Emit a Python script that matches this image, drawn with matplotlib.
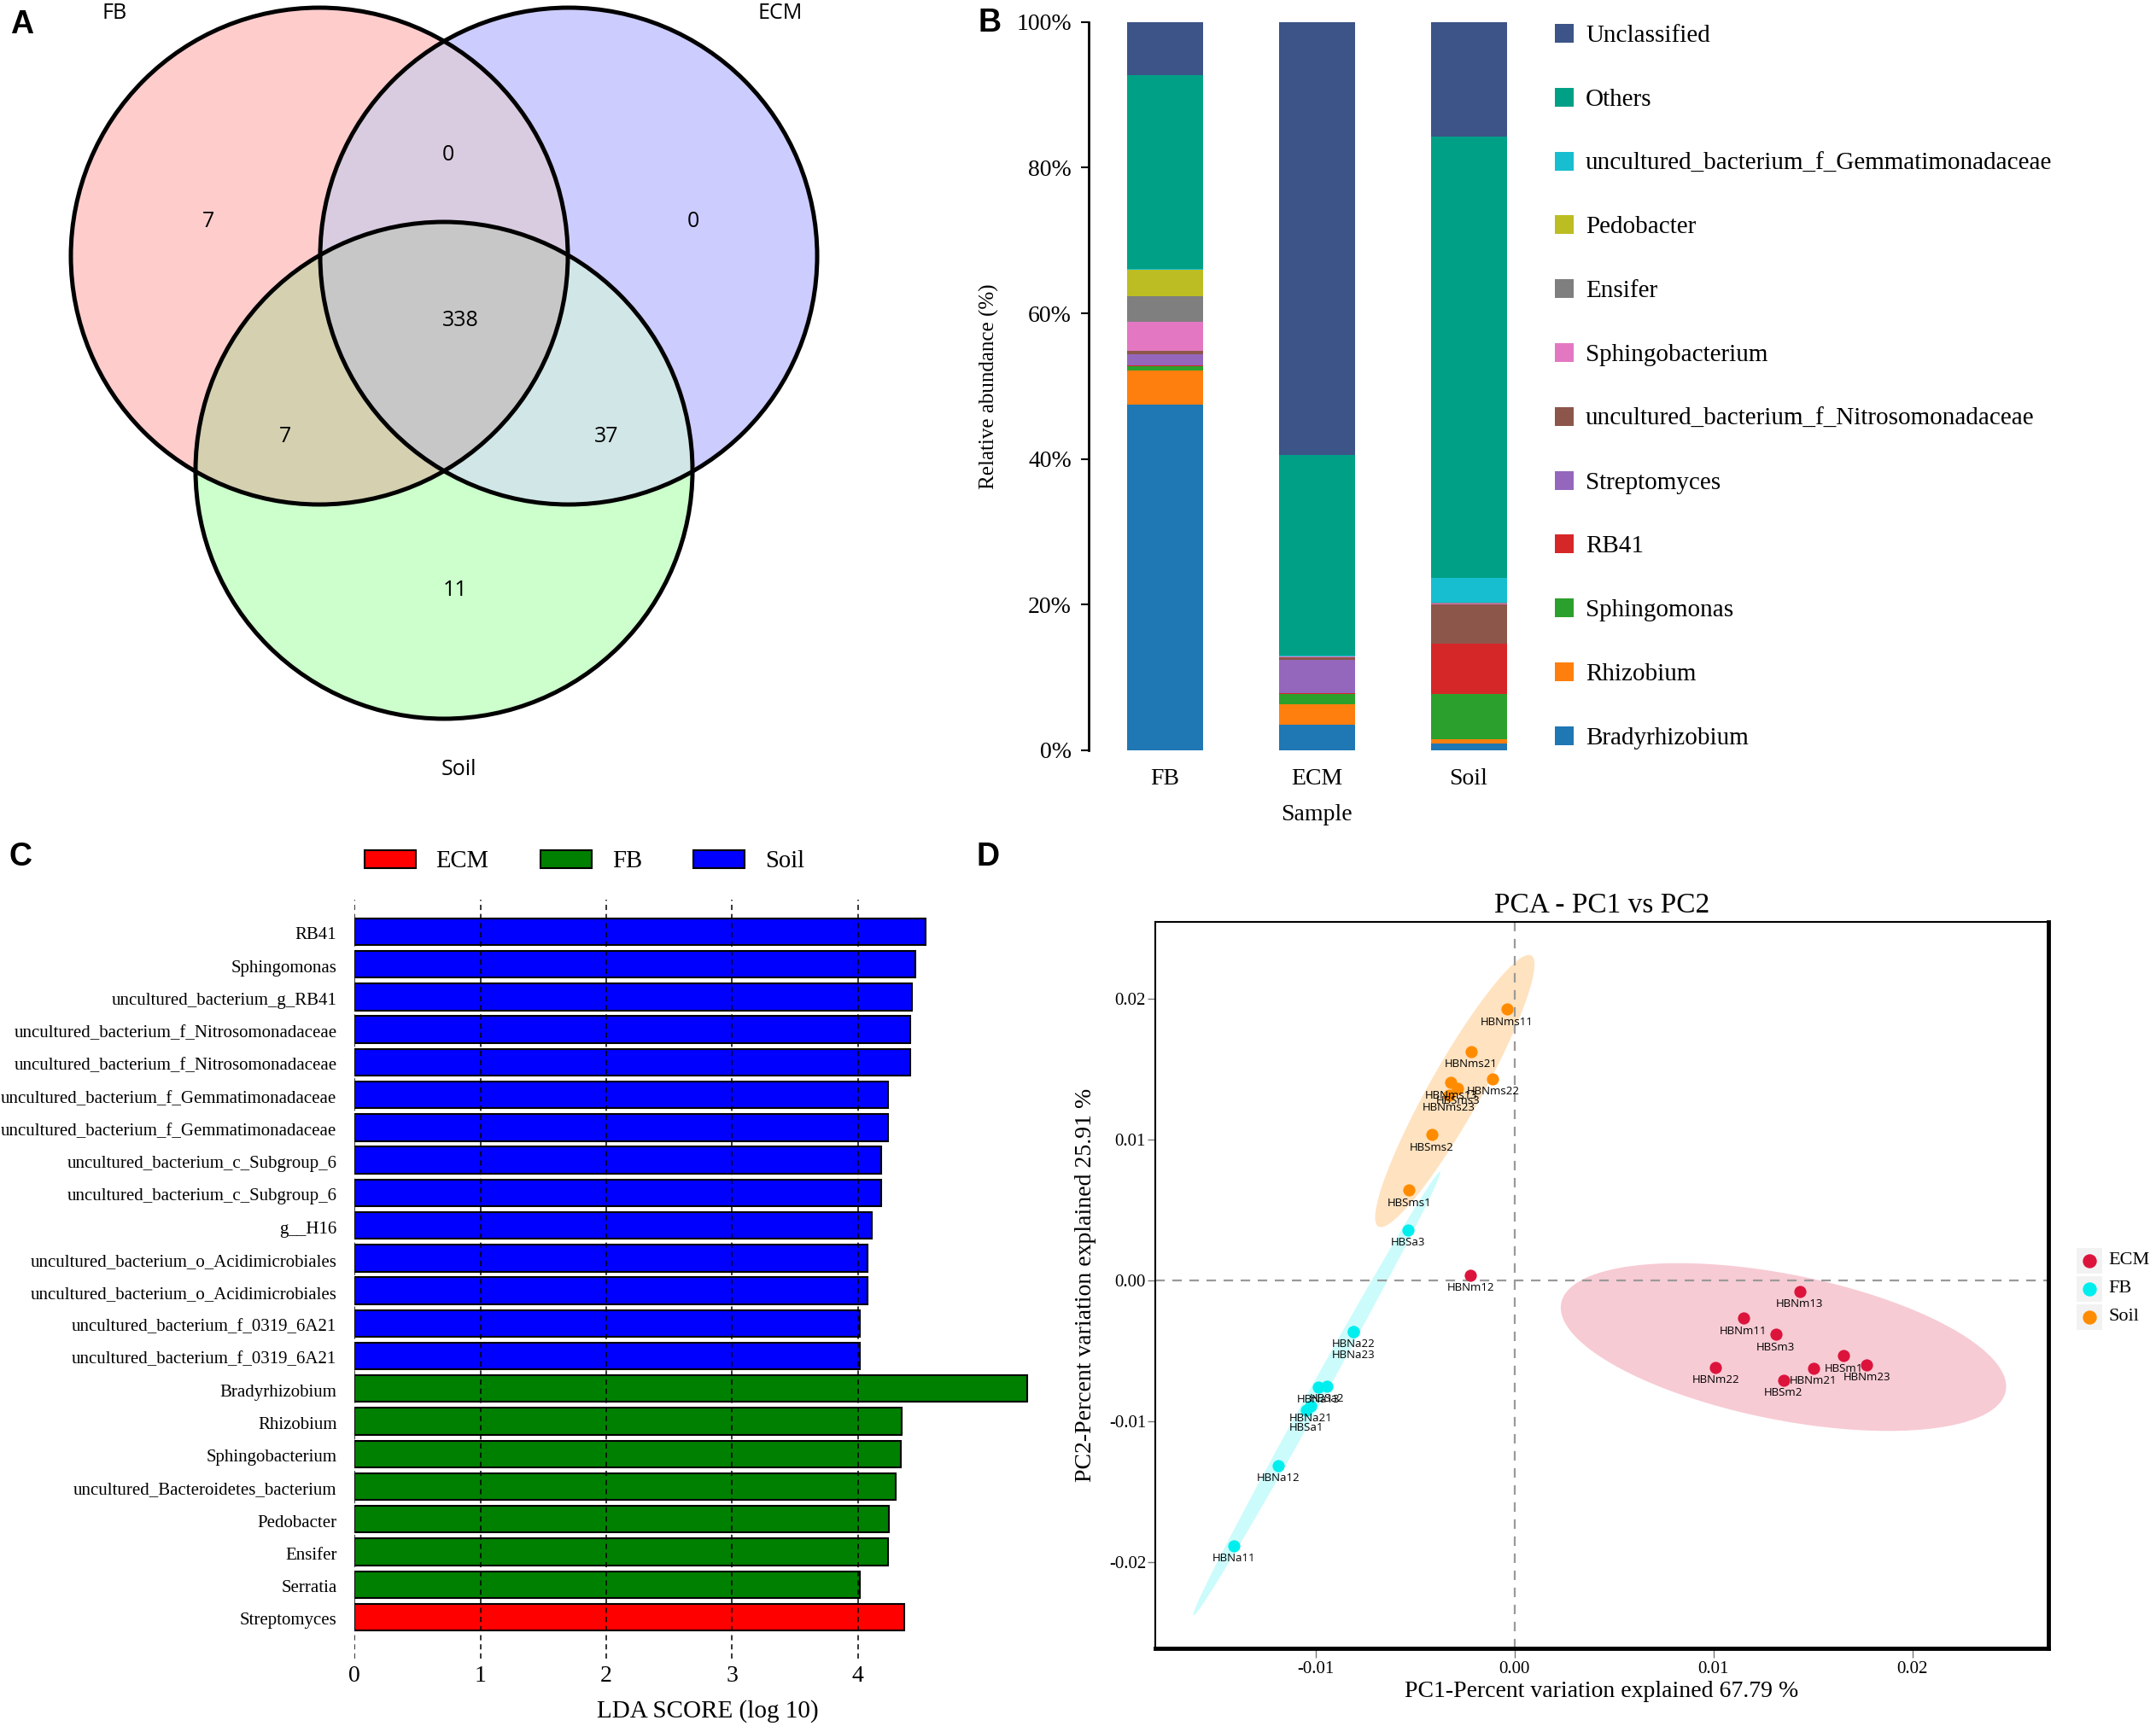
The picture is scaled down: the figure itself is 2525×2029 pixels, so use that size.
import numpy as np
import matplotlib
matplotlib.use('Agg')
import matplotlib.pyplot as plt
from matplotlib.patches import Circle, Rectangle, Patch
from matplotlib.lines import Line2D
from matplotlib.transforms import ScaledTranslation

# ------------------------------------------------------------------ data
# Panel A (Venn): region membership key = (FB, ECM, Soil)
venn_sets = ['FB', 'ECM', 'Soil']
venn_regions = ['100', '010', '001', '110', '101', '011', '111']
venn_counts = [7, 0, 11, 0, 7, 37, 338]

# Panel B (stacked relative abundance, %), bottom -> top
samples = ['FB', 'ECM', 'Soil']
taxa = ['Bradyrhizobium', 'Rhizobium', 'Sphingomonas', 'RB41', 'Streptomyces',
        'uncultured_bacterium_f_Nitrosomonadaceae', 'Sphingobacterium', 'Ensifer',
        'Pedobacter', 'uncultured_bacterium_f_Gemmatimonadaceae', 'Others', 'Unclassified']
bradyrhizobium = [47.5, 3.5, 0.9]
rhizobium = [4.7, 2.8, 0.6]
sphingomonas = [0.6, 1.4, 6.2]
rb41 = [0.1, 0.1, 6.9]
streptomyces = [1.5, 4.6, 0.1]
nitrosomonadaceae = [0.45, 0.4, 5.4]
sphingobacterium = [3.95, 0.05, 0.05]
ensifer = [3.5, 0.05, 0.1]
pedobacter = [3.7, 0.05, 0.05]
gemmatimonadaceae = [0.1, 0.05, 3.4]
others = [26.6, 27.6, 60.6]
unclassified = [7.3, 59.4, 15.7]
abundance = [bradyrhizobium, rhizobium, sphingomonas, rb41, streptomyces, nitrosomonadaceae,
             sphingobacterium, ensifer, pedobacter, gemmatimonadaceae, others, unclassified]

# Panel C (LEfSe LDA scores), top -> bottom
lda_features = ['RB41', 'Sphingomonas', 'uncultured_bacterium_g_RB41',
                'uncultured_bacterium_f_Nitrosomonadaceae', 'uncultured_bacterium_f_Nitrosomonadaceae',
                'uncultured_bacterium_f_Gemmatimonadaceae', 'uncultured_bacterium_f_Gemmatimonadaceae',
                'uncultured_bacterium_c_Subgroup_6', 'uncultured_bacterium_c_Subgroup_6', 'g__H16',
                'uncultured_bacterium_o_Acidimicrobiales', 'uncultured_bacterium_o_Acidimicrobiales',
                'uncultured_bacterium_f_0319_6A21', 'uncultured_bacterium_f_0319_6A21',
                'Bradyrhizobium', 'Rhizobium', 'Sphingobacterium', 'uncultured_Bacteroidetes_bacterium',
                'Pedobacter', 'Ensifer', 'Serratia', 'Streptomyces']
lda_scores = [4.54, 4.46, 4.43, 4.42, 4.42, 4.24, 4.24, 4.19, 4.19, 4.11, 4.08, 4.08,
              4.02, 4.02, 5.35, 4.35, 4.34, 4.30, 4.25, 4.24, 4.02, 4.37]
lda_groups = ['Soil'] * 14 + ['FB'] * 7 + ['ECM']
lda_legend = ['ECM', 'FB', 'Soil']

# Panel D (PCA)
pca_names = ['HBNm12', 'HBNm13', 'HBNm11', 'HBSm3', 'HBSm1', 'HBNm23', 'HBNm21', 'HBSm2', 'HBNm22',
             'HBSa3', 'HBNa22', 'HBNa23', 'HBNa13', 'HBSa2', 'HBNa21', 'HBSa1', 'HBNa12', 'HBNa11',
             'HBNms11', 'HBNms21', 'HBNms22', 'HBNms13', 'HBSms3', 'HBNms23', 'HBSms2', 'HBSms1']
pc1 = [-0.0022, 0.01434, 0.01151, 0.01313, 0.01654, 0.01771, 0.01503, 0.01352, 0.01012,
       -0.00536, -0.0081, -0.0081, -0.00986, -0.00943, -0.01025, -0.01046, -0.01188, -0.01413,
       -0.00039, -0.00219, -0.00109, -0.00319, -0.00285, -0.0033, -0.00416, -0.0053]
pc2 = [0.00038, -0.00077, -0.00268, -0.00383, -0.00536, -0.00598, -0.00623, -0.00706, -0.00616,
       0.00358, -0.00363, -0.00363, -0.00757, -0.00751, -0.0089, -0.0092, -0.01314, -0.01882,
       0.01923, 0.01624, 0.01429, 0.01402, 0.01362, 0.01315, 0.01033, 0.0064]
pca_groups = ['ECM'] * 9 + ['FB'] * 9 + ['Soil'] * 8
pca_label_extra = {'HBNa23': -13, 'HBSa1': -6}   # extra label drop (px) for overlapping names
# ellipses: centre, two conjugate semi-diameters (data units)
ell_center = {'ECM': (0.01352, -0.00473), 'FB': (-0.00994, -0.00803), 'Soil': (-0.0030, 0.01343)}
ell_u = {'ECM': (0.01114, -0.0033), 'FB': (0.0062, 0.01574), 'Soil': (0.00381, 0.00963)}
ell_v = {'ECM': (-0.0011, -0.00495), 'FB': (0.000383, -0.000202), 'Soil': (0.00123, -0.00065)}
pca_order = ['ECM', 'FB', 'Soil']

# ------------------------------------------------------------------ style
W, H, DPI = 2525, 2029, 100
SERIF = ['Liberation Serif', 'DejaVu Serif']
SANS = ['Open Sans', 'DejaVu Sans']
BOLD = ['Liberation Sans', 'DejaVu Sans']
PX = 72.0 / DPI  # points per pixel

fig = plt.figure(figsize=(W / DPI, H / DPI), dpi=DPI)
fig.patch.set_facecolor('white')


def ax_px(x0, y0, x1, y1):
    return fig.add_axes([x0 / W, 1 - y1 / H, (x1 - x0) / W, (y1 - y0) / H])


def fxy(x, y):
    return (x / W, 1 - y / H)


def panel_letter(s, x, y):
    fig.text(*fxy(x, y), s, fontsize=27, fontweight='bold', family=BOLD, ha='center', va='center')


# ------------------------------------------------------------------ A: Venn
region_colors = {'100': '#FFCCCC', '010': '#CCCCFF', '001': '#CCFFCC', '110': '#D9CCE0',
                 '101': '#D4D0B0', '011': '#D1E6E7', '111': '#C7C7C7'}
region_label_pos = {'100': (244, 259), '010': (812, 259), '001': (533, 692), '110': (525, 181),
                    '101': (334, 511), '011': (710, 511), '111': (539, 376)}
centers = [(374, 300), (666, 300), (520, 551)]
R = 291
axA = ax_px(0, 0, 1000, 950)
axA.set_xlim(0, 1000)
axA.set_ylim(950, 0)
axA.axis('off')
yy, xx = np.mgrid[0:950, 0:1000] + 0.5
masks = [(xx - cx) ** 2 + (yy - cy) ** 2 <= R ** 2 for cx, cy in centers]
img = np.ones((950, 1000, 3))
for key in venn_regions:
    m = np.ones_like(masks[0])
    for bit, mk in zip(key, masks):
        m &= mk if bit == '1' else ~mk
    img[m] = matplotlib.colors.to_rgb(region_colors[key])
axA.imshow(img, extent=(0, 1000, 950, 0), interpolation='bilinear', aspect='auto')
for c in centers:
    axA.add_patch(Circle(c, R, fill=False, ec='black', lw=3.6, zorder=3))
for key, cnt in zip(venn_regions, venn_counts):
    axA.text(*region_label_pos[key], str(cnt), fontsize=18, family=SANS, ha='center', va='center')
set_label_pos = [(134, 16), (914, 16), (537, 902)]
for name, (lx, ly) in zip(venn_sets, set_label_pos):
    axA.text(lx, ly, name, fontsize=18, family=SANS, ha='center', va='center')
panel_letter('A', 26, 29)

# ------------------------------------------------------------------ B: stacked bars
taxa_colors = ['#1F77B4', '#FF7F0E', '#2CA02C', '#D62728', '#9467BD', '#8C564B',
               '#E377C2', '#7F7F7F', '#BCBD22', '#17BECF', '#00A087', '#3C5488']
axB = ax_px(1275, 25.8, 1809, 879)
xpos = np.arange(len(samples))
bottom = np.zeros(len(samples))
for vals, col in zip(abundance, taxa_colors):
    v = np.array(vals)
    axB.bar(xpos, v, 0.5, bottom=bottom, color=col, lw=0)
    bottom += v
axB.set_xlim(-0.5, 2.5)
axB.set_ylim(0, 100)
for s in ['top', 'right', 'bottom']:
    axB.spines[s].set_visible(False)
axB.spines['left'].set_linewidth(2)
axB.set_yticks(np.arange(0, 101, 20))
axB.set_yticklabels([f'{v}%' for v in range(0, 101, 20)], family=SERIF, fontsize=20)
axB.tick_params(axis='y', length=6.5, width=1.5, pad=8)
axB.set_xticks(xpos)
axB.set_xticklabels(samples, family=SERIF, fontsize=20)
axB.tick_params(axis='x', length=0, pad=15)
axB.set_xlabel('Sample', family=SERIF, fontsize=20)
axB.xaxis.label.set_va('center')
axB.xaxis.set_label_coords(0.5, (879 - 955) / (879 - 25.8))
axB.set_ylabel('Relative abundance (%)', family=SERIF, fontsize=18)
axB.yaxis.label.set_va('center')
axB.yaxis.set_label_coords((1158 - 1275) / (1809 - 1275), 0.5)
# legend (top -> bottom)
for i, (name, col) in enumerate(zip(taxa[::-1], taxa_colors[::-1])):
    yc = 39 + i * 74.8
    fig.patches.append(Rectangle(fxy(1821, yc + 11), 21.7 / W, 22 / H, transform=fig.transFigure,
                                 color=col, lw=0))
    fig.text(*fxy(1857, yc + 3), name, family=SERIF, fontsize=21, va='center', ha='left')
panel_letter('B', 1159, 27)

# ------------------------------------------------------------------ C: LDA
grp_colors = {'ECM': '#FF0000', 'FB': '#008000', 'Soil': '#0000FF'}
x0C, unitC = 415.3, 147.3
axC = ax_px(x0C, 1053.6, x0C + 5.5 * unitC, 1943)
ypos = np.arange(len(lda_features))
axC.barh(ypos, lda_scores, height=0.82, color=[grp_colors[g] for g in lda_groups],
         edgecolor='black', lw=1.5, zorder=2)
axC.set_xlim(0, 5.5)
axC.set_ylim(len(lda_features) - 1 + 1.27, -0.99)
for v in range(5):
    axC.axvline(v, color='black', ls=(0, (4, 3)), lw=1.1, zorder=3)
for s in axC.spines.values():
    s.set_visible(False)
axC.set_yticks(ypos)
axC.set_yticklabels(lda_features, family=SERIF, fontsize=15, va='center')
axC.tick_params(axis='y', length=0, pad=15)
shift = ScaledTranslation(0, -4.5 / DPI, fig.dpi_scale_trans)
for lbl in axC.get_yticklabels():
    lbl.set_transform(lbl.get_transform() + shift)
axC.set_xticks(range(5))
axC.set_xticklabels([str(v) for v in range(5)], family=SERIF, fontsize=20)
axC.tick_params(axis='x', length=0, pad=6)
axC.set_xlabel('LDA SCORE (log 10)', family=SERIF, fontsize=21)
axC.xaxis.label.set_va('center')
axC.xaxis.set_label_coords((829 - x0C) / (5.5 * unitC), (1943 - 2005) / (1943 - 1053.6))
axC.legend(handles=[Patch(fc=grp_colors[g], ec='black', lw=1.5, label=g) for g in lda_legend],
           ncol=3, loc='center left', bbox_to_anchor=fxy(426.5, 1009), bbox_transform=fig.transFigure,
           frameon=False, prop={'family': SERIF, 'size': 20.6}, handlelength=2.1, handleheight=0.75,
           handletextpad=0.84, columnspacing=2.1, borderpad=0, borderaxespad=0)
panel_letter('C', 24, 1004)

# ------------------------------------------------------------------ D: PCA
pt_colors = {'ECM': '#DC143C', 'FB': '#00EEEE', 'Soil': '#FF8C00'}
ell_alpha = {'ECM': 0.22, 'FB': 0.2, 'Soil': 0.25}
axD = ax_px(1352.5, 1080.4, 2399, 1931)
axD.set_xlim(-0.01808, 0.02684)
axD.set_ylim(-0.0261, 0.0254)
t = np.linspace(0, 2 * np.pi, 400)
for g in pca_order:
    cx, cy = ell_center[g]
    ux, uy = ell_u[g]
    vx, vy = ell_v[g]
    axD.fill(cx + ux * np.cos(t) + vx * np.sin(t), cy + uy * np.cos(t) + vy * np.sin(t),
             color=pt_colors[g], alpha=ell_alpha[g], lw=0, zorder=1)
axD.axvline(0, color='#9A9A9A', ls=(0, (5, 4)), lw=1.6, zorder=2)
axD.axhline(0, color='#9A9A9A', ls=(0, (5, 4)), lw=1.6, zorder=2)
pc1a, pc2a = np.array(pc1), np.array(pc2)
for g in pca_order:
    idx = [i for i, gg in enumerate(pca_groups) if gg == g]
    axD.scatter(pc1a[idx], pc2a[idx], s=105, color=pt_colors[g], lw=0, zorder=3)
for name, x, y in zip(pca_names, pc1, pc2):
    drop = 15 - pca_label_extra.get(name, 0)
    axD.annotate(name, (x, y), xytext=(0, -drop * PX), textcoords='offset points', ha='center',
                 va='center', fontsize=9.5, family=SANS, zorder=4)
axD.set_xticks([-0.01, 0.0, 0.01, 0.02])
axD.set_xticklabels(['-0.01', '0.00', '0.01', '0.02'], family=SERIF, fontsize=15)
axD.set_yticks([-0.02, -0.01, 0.0, 0.01, 0.02])
axD.set_yticklabels(['-0.02', '-0.01', '0.00', '0.01', '0.02'], family=SERIF, fontsize=15)
axD.tick_params(axis='x', length=8, width=1, color='#777777', pad=3)
axD.tick_params(axis='y', length=6.5, width=1, color='#777777', pad=1)
axD.spines['left'].set_linewidth(1.5)
axD.spines['top'].set_linewidth(1.5)
axD.spines['right'].set_linewidth(3.5)
axD.spines['bottom'].set_linewidth(3.5)
axD.set_title('PCA - PC1 vs PC2', family=SERIF, fontsize=24, pad=8)
axD.set_xlabel('PC1-Percent variation explained 67.79 %', family=SERIF, fontsize=20)
axD.xaxis.label.set_va('center')
axD.xaxis.set_label_coords(0.5, (1931 - 1982) / (1931 - 1080.4))
axD.set_ylabel('PC2-Percent variation explained 25.91 %', family=SERIF, fontsize=20)
axD.yaxis.label.set_va('center')
axD.yaxis.set_label_coords((1272 - 1352.5) / (2399 - 1352.5), 0.5)
# legend
for i, g in enumerate(pca_order):
    yc = 1476.7 + i * 33
    fig.patches.append(Rectangle(fxy(2431.7, yc + 15), 30 / W, 30 / H, transform=fig.transFigure,
                                 color='#F2F2F2', lw=0))
    fig.add_artist(Line2D([2446.7 / W], [1 - yc / H], transform=fig.transFigure, marker='o',
                          markersize=15 * PX, color=pt_colors[g], lw=0))
    fig.text(*fxy(2469.3, yc), g, family=SERIF, fontsize=16, va='center', ha='left')
panel_letter('D', 1157, 1004)

fig.savefig('out.png', dpi=DPI, facecolor='white')
